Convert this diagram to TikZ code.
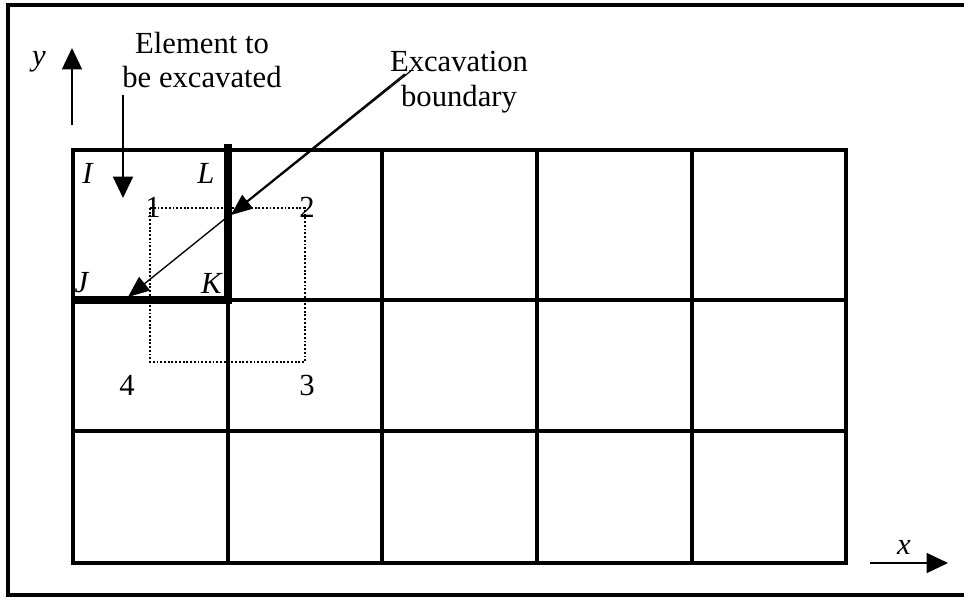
\documentclass[tikz,border=0pt]{standalone}
\usepackage{fontspec}
\setmainfont{Liberation Serif}
\usetikzlibrary{arrows.meta,positioning}

\begin{document}
\begin{tikzpicture}[
    x=0.75pt, y=-0.75pt,
    lbl/.style={font=\fontsize{23}{26}\selectfont, inner sep=0pt},
    note/.style={font=\fontsize{23}{26}\selectfont, align=center, inner sep=0pt},
    mesh/.style={line width=2.3pt, line cap=rect},
    bnd/.style={line width=5.5pt, line cap=rect},
    arr/.style={-{Triangle[length=16pt,width=15pt]}, line width=1.1pt},
    ptr/.style={-{Triangle[length=16pt,width=13pt]}, line width=1pt}
]
\useasboundingbox (0,0) rectangle (964,597);
\draw[line width=3pt] (964,5) -- (8,5) -- (8,595) -- (964,595);

% mesh of elements
\draw[mesh] (73,150) rectangle (846,563);
\draw[mesh] (73,300) -- (846,300);
\draw[mesh] (73,431) -- (846,431);
\draw[mesh] (228,150) -- (228,563);
\draw[mesh] (382,150) -- (382,563);
\draw[mesh] (537,150) -- (537,563);
\draw[mesh] (692,150) -- (692,563);

% excavation boundary
\draw[bnd] (228,148) -- (228,300) -- (75,300);
\draw[line width=1.4pt, dash pattern=on 1.4pt off 1.4pt] (150,208) rectangle (305,362);

% node labels
\node[lbl] (I) at (88,173) {\textit{I}};
\node[lbl] (L) at (206,173) {\textit{L}};
\node[lbl] (J) at (82,283) {\textit{J}};
\node[lbl] (K) at (212,283) {\textit{K}};
\node[lbl] (n1) at (153,207) {1};
\node[lbl] (n2) at (307,207) {2};
\node[lbl] (n3) at (307,385) {3};
\node[lbl] (n4) at (127,385) {4};

% notes
\node[note] (elem) at (202,60) {Element to\\be excavated};
\node[note] (exc) at (459,82) {Excavation\\boundary};
\coordinate (eltip) at (123,198);
\coordinate (bndL) at (231,215);
\coordinate (bndJ) at (128,297);
\draw[arr] ([yshift=-5pt]elem.south -| eltip) -- (eltip);
\draw[ptr] ([shift={(21,20)}]exc.north west) -- (bndL);
\draw[ptr] ([shift={(15,23)}]exc.north west) -- (bndJ);

% axes
\coordinate (y0) at (72,125);
\coordinate (y1) at (72,48);
\coordinate (x0) at (870,563);
\coordinate (x1) at (948,563);
\draw[arr] (y0) -- (y1);
\draw[arr] (x0) -- (x1);
\node[lbl] (ylab) at (39,62) {\textit{y}};
\node[lbl] (xlab) at (904,547) {\textit{x}};
\end{tikzpicture}
\end{document}
